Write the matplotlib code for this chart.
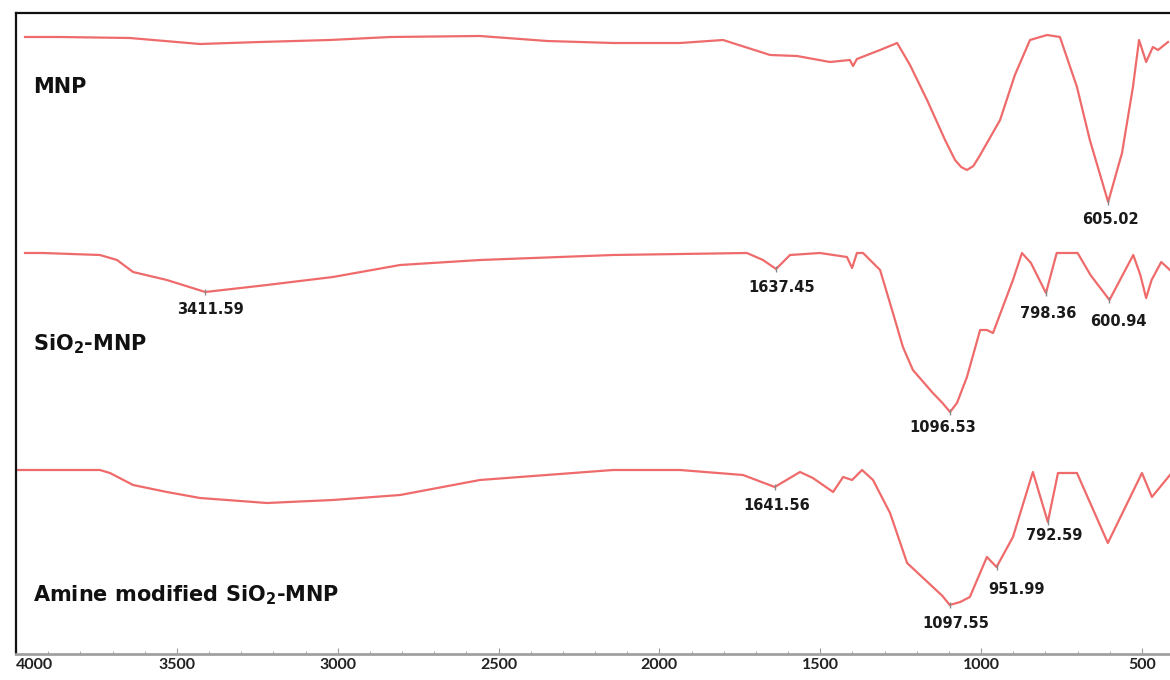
import matplotlib.pyplot as plt
import numpy as np

plt.rcParams['mathtext.default'] = 'regular'

# Wellenzahl (cm^-1) und Transmission (willkürliche Einheiten, gestapelt)
wn_mnp = [3972, 3863, 3646, 3428, 3242, 3024, 2837, 2558, 2349, 2144, 1936, 1802,
          1656, 1572, 1470, 1408, 1398, 1386, 1314, 1261, 1221, 1168, 1112, 1081,
          1062, 1044, 1024, 1003, 941, 895, 848, 795, 755, 702, 662, 605.02, 562,
          528, 509, 487, 466, 450, 419]
t_mnp = [617, 617, 616, 610, 612, 614, 617, 618, 613, 611, 611, 614,
         599, 598, 592, 594, 588, 595, 604, 611, 589, 554, 514, 494,
         487, 484, 488, 499, 534, 579, 614, 619, 617, 567, 514, 452, 501,
         567, 614, 592, 607, 604, 612]

wn_sio2 = [3972, 3916, 3739, 3686, 3636, 3531, 3411.59, 3220, 3015, 2806, 2558,
           2144, 1728, 1678, 1637.45, 1594, 1501, 1417, 1401, 1386, 1367, 1314,
           1274, 1243, 1212, 1150, 1120, 1096.53, 1075, 1044, 1003, 982, 963, 901,
           873, 845, 798.36, 765, 700, 660, 600.94, 560, 527, 505, 487, 470, 440,
           413]
t_sio2 = [401, 401, 399, 394, 382, 374, 362, 369, 377, 389, 394,
          399, 401, 394, 385, 399, 401, 397, 386, 401, 401, 384,
          341, 307, 284, 261, 251, 242, 251, 277, 324, 324, 321, 374,
          401, 391, 361, 401, 401, 379, 354, 379, 399, 379, 356, 374, 392,
          384]

wn_amine = [3994, 3739, 3708, 3636, 3531, 3428, 3220, 3015, 2806, 2558, 2144,
            1936, 1740, 1641.56, 1563, 1523, 1460, 1429, 1401, 1370, 1336, 1283,
            1230, 1150, 1120, 1097.55, 1065, 1035, 982, 951.99, 901, 839, 792.59,
            761, 702, 606, 500, 469, 413]
t_amine = [184, 184, 181, 169, 162, 156, 151, 154, 159, 174, 184,
           184, 179, 167, 182, 176, 162, 177, 174, 184, 174, 141,
           91, 67, 58, 49, 52, 57, 97, 87, 117, 182, 132,
           181, 181, 111, 181, 157, 179]

series = [(wn_mnp, t_mnp), (wn_sio2, t_sio2), (wn_amine, t_amine)]

namen = ['MNP', 'SiO$_2$-MNP', 'Amine modified SiO$_2$-MNP']
namen_y = [567, 310, 59]

# markierte Banden: (Spektrum, Wellenzahl)
peaks = [(0, 605.02), (1, 3411.59), (1, 1637.45), (1, 1096.53), (1, 798.36),
         (1, 600.94), (2, 1641.56), (2, 1097.55), (2, 951.99), (2, 792.59)]
# Versatz der Beschriftung in Pixeln (dx, dy)
peak_offset = [(2, -18), (5, -18), (6, -19), (-7, -15), (2, -20),
               (9, -22), (2, -18), (6, -18), (20, -22), (6, -14)]

fig = plt.figure(figsize=(11.7, 6.8), dpi=100)
ax = fig.add_axes([16/1170, 26/680, 1154/1170, 641.5/680])

rot = '#ef6b6b'
for wn, t in series:
    ax.plot(wn, t, '-', color=rot, lw=1.6, solid_joinstyle='round')

for (i, w), (dx, dy) in zip(peaks, peak_offset):
    wn, t = series[i]
    y = t[wn.index(w)]
    ax.plot([w], [y], marker='|', ms=4, color='#888888', mew=1)
    ax.annotate('%.2f' % w, xy=(w, y), xytext=(dx*0.72, dy*0.72),
                textcoords='offset points', ha='center', va='center',
                fontsize=10.5, fontweight='bold', family='DejaVu Sans',
                color='#1a1a1a')

for name, y in zip(namen, namen_y):
    ax.text(3947, y, name, fontsize=15, fontweight='bold',
            family='DejaVu Sans', color='#111111', va='center', ha='left')

ax.set_xlim(4000, 4000 - 1154/0.3217)
ax.set_ylim(0, 641.5)
ax.set_xticks(np.arange(4000, 499, -500))
ax.set_xticks(np.arange(4000, 400, -100), minor=True)
ax.set_yticks([])
ax.tick_params(axis='x', which='both', direction='in', color='#999999')
ax.tick_params(axis='x', which='major', length=4, pad=3, labelsize=11.5)
ax.tick_params(axis='x', which='minor', length=2)
for lab in ax.get_xticklabels():
    lab.set_family('Lato')
    lab.set_fontweight('bold')
    lab.set_color('#222222')
ax.get_xticklabels()[0].set_ha('left')

for s in ['top', 'left']:
    ax.spines[s].set_color('#111111')
    ax.spines[s].set_linewidth(1.6)
ax.spines['bottom'].set_color('#a0a0a0')
ax.spines['bottom'].set_linewidth(2)
ax.spines['right'].set_visible(False)

plt.savefig('out.png', dpi=100)
